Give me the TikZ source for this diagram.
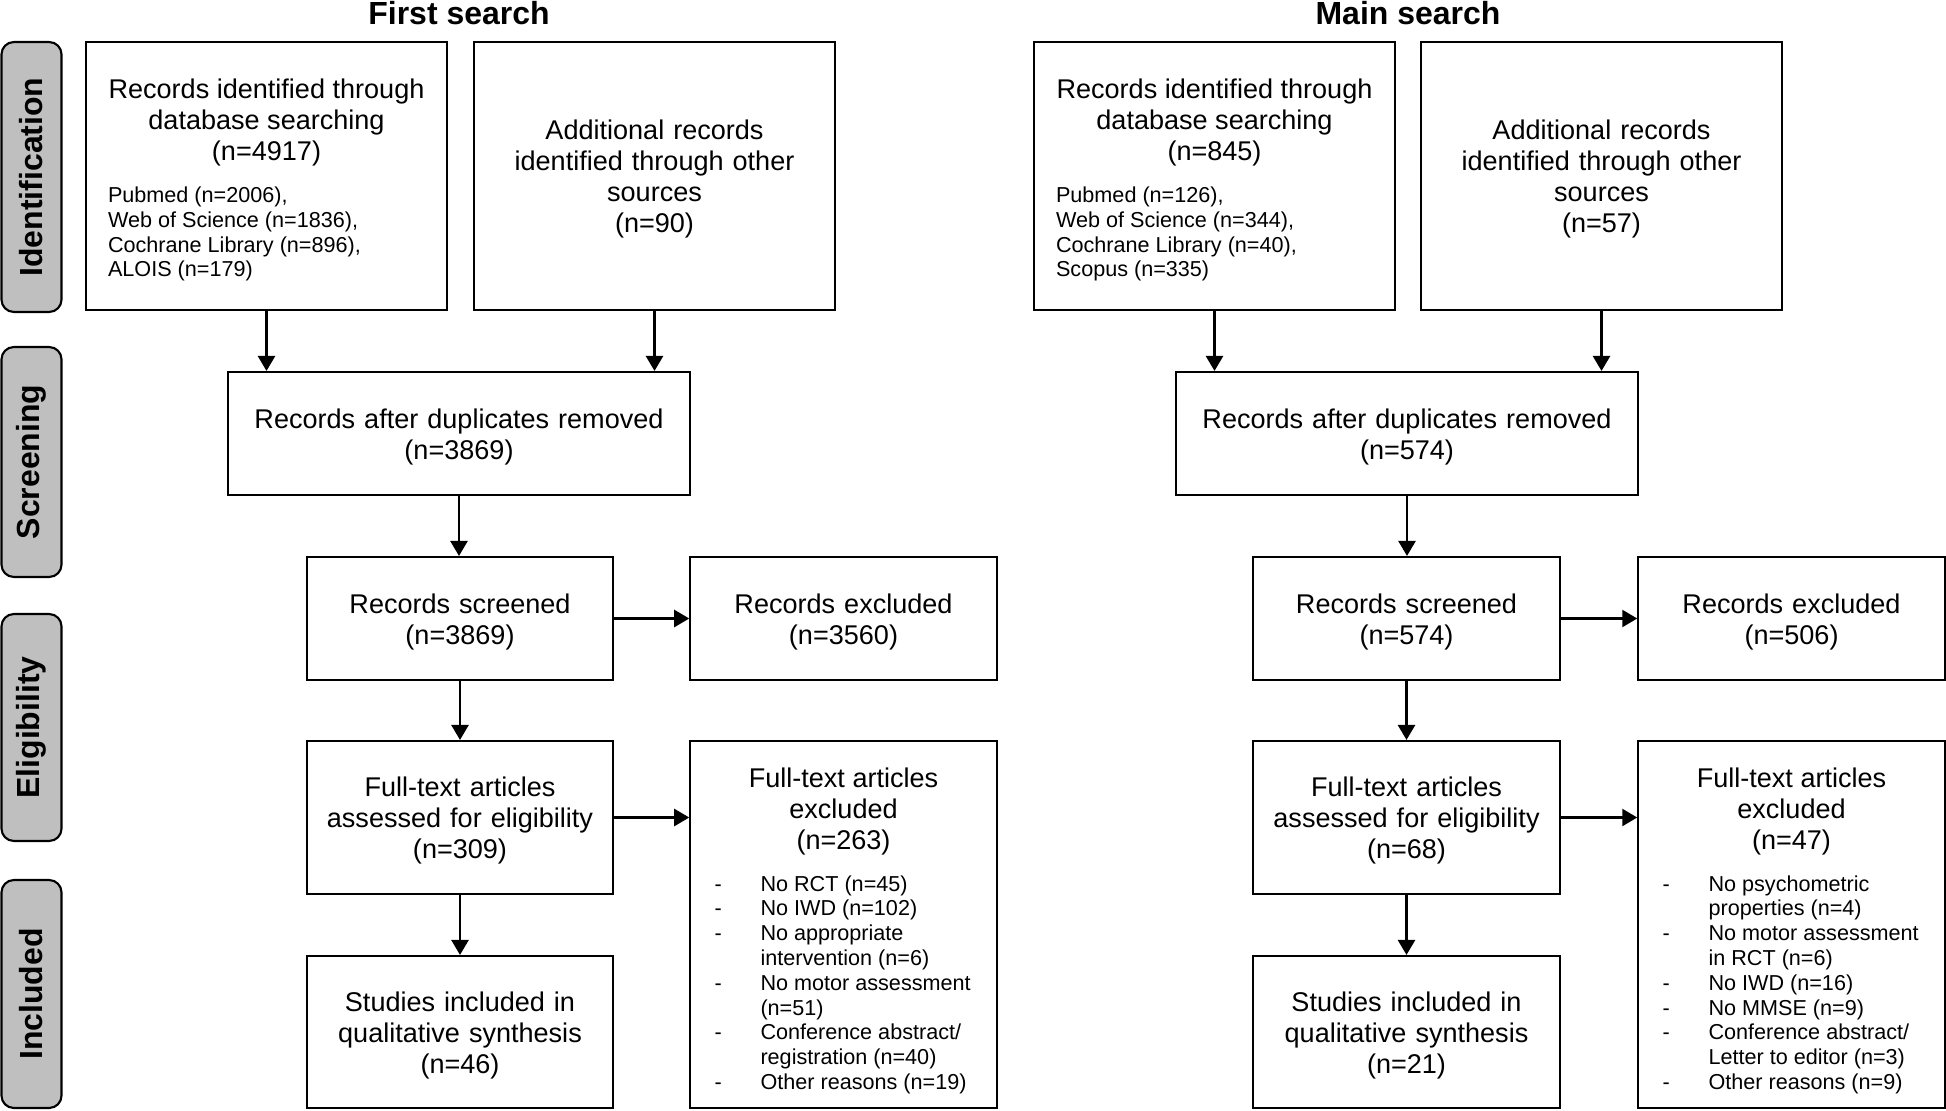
\documentclass[tikz,border=0pt]{standalone}
\usepackage{fontspec}
\setmainfont{Liberation Sans}
\usetikzlibrary{arrows.meta}

\definecolor{phasegray}{RGB}{191,191,191}
\newcommand{\bodysize}{\fontsize{15.4}{17.6}\selectfont}
\newcommand{\listsize}{\fontsize{12.3}{14.1}\selectfont}
\newcommand{\headsize}{\fontsize{18.2}{21}\selectfont\bfseries}

\tikzset{
  box/.style={draw, line width=1.2pt, align=center, font=\bodysize, inner sep=0pt},
  textbox/.style={box, execute at begin node={\rule{0pt}{15pt}}},
  srcbox/.style={box, minimum width=7.22cm, minimum height=5.36cm},
  othbox/.style={textbox, minimum width=7.22cm, minimum height=5.36cm, text width=7cm},
  dupbox/.style={textbox, minimum width=9.24cm, minimum height=2.46cm, text width=9cm},
  stepbox/.style={textbox, minimum width=6.13cm, minimum height=2.46cm, text width=5.9cm},
  ftbox/.style={textbox, minimum width=6.13cm, minimum height=3.06cm, text width=5.9cm},
  exbox/.style={box, minimum width=6.13cm, minimum height=7.34cm},
  incbox/.style={textbox, minimum width=6.13cm, minimum height=3.04cm, text width=5.9cm},
  phase/.style={draw, line width=1.2pt, fill=phasegray, rounded corners=7pt,
    rotate=90, minimum height=1.2cm, inner sep=0pt, font=\headsize},
  arr/.style={line width=1.4pt, -{Triangle[length=0.3cm,width=0.34cm]}},
}

\begin{document}
\begin{tikzpicture}[x=0.02cm, y=-0.02cm]
  \useasboundingbox (0,0) rectangle (1946,1111);

  % phases
  \node[phase, minimum width=5.4cm]  (ident) at (31.5,177)   {Identification};
  \node[phase, minimum width=4.6cm]  (scrn)  at (31.5,462)   {Screening};
  \node[phase, minimum width=4.54cm] (elig)  at (31.5,727.5) {Eligibility};
  \node[phase, minimum width=4.56cm] (incl)  at (31.5,994)   {Included};

  \node[font=\headsize] (title1) at (459,13)  {First search};
  \node[font=\headsize] (title2) at (1408,13) {Main search};

  % first search
  \node[srcbox] (db1) at (266.5,176) {\begin{minipage}{6.34cm}\centering
    \rule{0pt}{16pt}Records identified through\\database searching\\(n=4917)\par\vspace{9.8pt}
    \raggedright\listsize Pubmed (n=2006),\\Web of Science (n=1836),\\
    Cochrane Library (n=896),\\ALOIS (n=179)\end{minipage}};
  \node[othbox] (oth1) at (654.5,176) {Additional records\\identified through other\\sources\\(n=90)};
  \node[dupbox] (dup1) at (459,433.5) {Records after duplicates removed\\(n=3869)};
  \node[stepbox] (scr1) at (460,618.5) {Records screened\\(n=3869)};
  \node[stepbox] (exc1) at (843.5,618.5) {Records excluded\\(n=3560)};
  \node[ftbox] (ft1) at (460,817.5) {Full-text articles\\assessed for eligibility\\(n=309)};
  \node[exbox] (ftx1) at (843.5,924.5) {\begin{minipage}{5.16cm}\centering
    \rule{0pt}{20pt}Full-text articles\\excluded\\(n=263)\par\vspace{9.8pt}
    \raggedright\listsize
    \begin{tabular}[t]{@{}p{0.92cm}@{}l@{}}
      - & No RCT (n=45)\\
      - & No IWD (n=102)\\
      - & No appropriate\\
        & intervention (n=6)\\
      - & No motor assessment\\
        & (n=51)\\
      - & Conference abstract/\\
        & registration (n=40)\\
      - & Other reasons (n=19)
    \end{tabular}\end{minipage}};
  \node[incbox] (inc1) at (460,1032) {Studies included in\\qualitative synthesis\\(n=46)};

  % main search
  \node[srcbox] (db2) at (1214.5,176) {\begin{minipage}{6.34cm}\centering
    \rule{0pt}{16pt}Records identified through\\database searching\\(n=845)\par\vspace{9.8pt}
    \raggedright\listsize Pubmed (n=126),\\Web of Science (n=344),\\
    Cochrane Library (n=40),\\Scopus (n=335)\end{minipage}};
  \node[othbox] (oth2) at (1601.5,176) {Additional records\\identified through other\\sources\\(n=57)};
  \node[dupbox] (dup2) at (1407,433.5) {Records after duplicates removed\\(n=574)};
  \node[stepbox] (scr2) at (1406.5,618.5) {Records screened\\(n=574)};
  \node[stepbox] (exc2) at (1791.5,618.5) {Records excluded\\(n=506)};
  \node[ftbox] (ft2) at (1406.5,817.5) {Full-text articles\\assessed for eligibility\\(n=68)};
  \node[exbox] (ftx2) at (1791.5,924.5) {\begin{minipage}{5.16cm}\centering
    \rule{0pt}{20pt}Full-text articles\\excluded\\(n=47)\par\vspace{9.8pt}
    \raggedright\listsize
    \begin{tabular}[t]{@{}p{0.92cm}@{}l@{}}
      - & No psychometric\\
        & properties (n=4)\\
      - & No motor assessment\\
        & in RCT (n=6)\\
      - & No IWD (n=16)\\
      - & No MMSE (n=9)\\
      - & Conference abstract/\\
        & Letter to editor (n=3)\\
      - & Other reasons (n=9)
    \end{tabular}\end{minipage}};
  \node[incbox] (inc2) at (1406.5,1032) {Studies included in\\qualitative synthesis\\(n=21)};

  % arrows
  \foreach \s in {1,2} {
    \draw[arr] (db\s.south) -- (db\s.south |- dup\s.north);
    \draw[arr] (oth\s.south) -- (oth\s.south |- dup\s.north);
    \draw[arr] (dup\s.south) -- (dup\s.south |- scr\s.north);
    \draw[arr] (scr\s.east) -- (exc\s.west);
    \draw[arr] (scr\s.south) -- (ft\s.north);
    \draw[arr] (ft\s.east) -- (ft\s.east -| ftx\s.west);
    \draw[arr] (ft\s.south) -- (inc\s.north);
  }
\end{tikzpicture}
\end{document}
